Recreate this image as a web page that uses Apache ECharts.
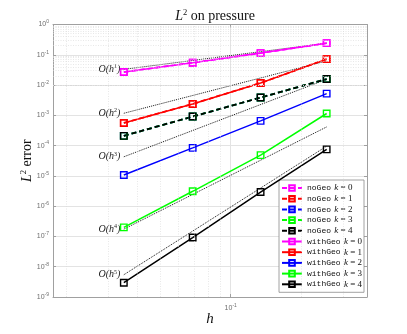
<!DOCTYPE html>
<html>
<head>
<meta charset="utf-8">
<script src="https://cdn.jsdelivr.net/npm/echarts@6/dist/echarts.min.js"></script>
<style>
  html, body { margin: 0; padding: 0; background: #fff; }
  #chart { width: 407px; height: 334px; }
</style>
</head>
<body>
<div id="chart"></div>
<script>
// mesh sizes
const h = [0.0351, 0.0689, 0.134, 0.256]
// errors
const noGeo0 = [0.0269, 0.0548, 0.1135, 0.242]
const noGeo1 = [5.6e-4, 2.38e-3, 0.0117, 0.072]
const noGeo2 = [2.1e-4, 9.1e-4, 3.86e-3, 0.0158]
const noGeo3 = [2.1e-4, 9.1e-4, 3.86e-3, 0.0158]
const noGeo4 = [2.1e-4, 9.1e-4, 3.86e-3, 0.0158]
const withGeo0 = [0.0269, 0.0548, 0.1135, 0.242]
const withGeo1 = [5.6e-4, 2.38e-3, 0.0117, 0.072]
const withGeo2 = [1.07e-5, 8.45e-5, 6.55e-4, 5.2e-3]
const withGeo3 = [2.0e-7, 3.1e-6, 4.86e-5, 1.15e-3]
const withGeo4 = [2.97e-9, 9.2e-8, 2.93e-6, 7.5e-5]
// reference slopes (end points)
const refH = [0.0351, 0.256]
const ref1 = [0.033, 0.242]
const ref2 = [1.17e-3, 0.0628]
const ref3 = [4.27e-5, 0.0155]
const ref4 = [1.74e-7, 4.15e-4]
const ref5 = [5.43e-9, 9.6e-5]
const refOrders = [1, 2, 3, 4, 5]

const colors = ['#ff00ff', '#ff0000', '#0000ff', '#00ff00', '#000000']
const noGeo = [noGeo0, noGeo1, noGeo2, noGeo3, noGeo4]
const withGeo = [withGeo0, withGeo1, withGeo2, withGeo3, withGeo4]
const refs = [ref1, ref2, ref3, ref4, ref5]

// minor grid positions (2..9 x 10^k)
const minorX = []
const minorY = []
for (let m = 2; m <= 9; m++) {
  if (m * 0.01 > 0.0176) minorX.push(m * 0.01)
  if (m * 0.1 < 0.38) minorX.push(m * 0.1)
  for (let e = -9; e < 0; e++) minorY.push(m * Math.pow(10, e))
}

const serif = '"Liberation Serif", "DejaVu Serif", serif'
const mono = '"Liberation Mono", "DejaVu Sans Mono", monospace'

function pow10Label (value) {
  const e = Math.log10(value)
  const r = Math.round(e)
  if (Math.abs(e - r) > 1e-6) return ''
  return '{b|10}{s|' + r + '}'
}
const tickRich = {
  b: { fontSize: 7, color: '#6e6e6e', fontFamily: 'Liberation Sans, sans-serif' },
  s: { fontSize: 5, color: '#6e6e6e', verticalAlign: 'top', padding: [0, 0, 5, 0], fontFamily: 'Liberation Sans, sans-serif' }
}

function pairs (xs, ys) {
  return xs.map((x, i) => [x, ys[i]])
}

const series = []
// minor grid lines
series.push({
  name: 'grid',
  type: 'line',
  data: [],
  silent: true,
  z: 1,
  markLine: {
    silent: true,
    symbol: 'none',
    label: { show: false },
    animation: false,
    lineStyle: { color: '#d9d9d9', type: [1, 1.5], width: 0.6 },
    data: minorX.map(v => ({ xAxis: v })).concat(minorY.map(v => ({ yAxis: v })))
  }
})
for (let k = 0; k < 5; k++) {
  series.push({
    name: 'noGeo k = ' + k,
    type: 'line',
    data: pairs(h, noGeo[k]),
    symbol: 'rect',
    symbolSize: 6.5,
    z: 3,
    lineStyle: { color: colors[k], width: 1.8, type: [5, 3] },
    itemStyle: { color: 'rgba(255,255,255,0)', borderColor: colors[k], borderWidth: 1.4 }
  })
}
for (let k = 0; k < 5; k++) {
  series.push({
    name: 'withGeo k = ' + k,
    type: 'line',
    data: pairs(h, withGeo[k]),
    symbol: 'rect',
    symbolSize: 6.5,
    z: 4,
    lineStyle: { color: colors[k], width: 1.5 },
    itemStyle: { color: 'rgba(255,255,255,0)', borderColor: colors[k], borderWidth: 1.4 }
  })
}
for (let i = 0; i < refs.length; i++) {
  series.push({
    name: 'O' + refOrders[i],
    type: 'line',
    data: pairs(refH, refs[i]),
    symbol: 'circle',
    symbolSize: 1,
    z: 2,
    itemStyle: { color: 'rgba(0,0,0,0)' },
    lineStyle: { color: '#111', width: 1, type: [1, 1] },
    label: {
      show: true,
      position: 'left',
      distance: 3,
      formatter: p => p.dataIndex === 0 ? '{t|O(h}{s|' + refOrders[i] + '}{t|)}' : '',
      rich: {
        t: { fontFamily: serif, fontStyle: 'italic', fontSize: 10, color: '#222' },
        s: { fontFamily: serif, fontSize: 6, color: '#222', verticalAlign: 'top', padding: [0, 0, 5, 0] }
      }
    }
  })
}

const legendNames = []
for (let k = 0; k < 5; k++) legendNames.push('noGeo k = ' + k)
for (let k = 0; k < 5; k++) legendNames.push('withGeo k = ' + k)

const axisGrey = '#a0a0a0'
const chart = echarts.init(document.getElementById('chart'), null, { renderer: 'canvas' })
chart.setOption({
  animation: false,
  title: {
    text: '{i|L}{s|2}{n| on pressure}',
    left: 210,
    textAlign: 'center',
    top: 3,
    textStyle: {
      fontWeight: 'normal',
      rich: {
        i: { fontFamily: serif, fontStyle: 'italic', fontWeight: 'normal', fontSize: 14, color: '#111' },
        s: { fontFamily: serif, fontWeight: 'normal', fontSize: 8.5, color: '#111', verticalAlign: 'top', padding: [0, 0, 8, 0] },
        n: { fontFamily: serif, fontWeight: 'normal', fontSize: 14, color: '#111' }
      }
    }
  },
  grid: { left: 53, right: 40, top: 24.5, bottom: 37 },
  legend: {
    data: legendNames,
    orient: 'vertical',
    left: 279,
    top: 180,
    backgroundColor: '#fff',
    borderColor: '#8c8c8c',
    borderWidth: 0.8,
    borderRadius: 0,
    padding: [2, 2, 2, 2],
    itemWidth: 20,
    itemHeight: 7,
    itemGap: -1.3,
    formatter: name => {
      const parts = name.split(' ')
      return '{m|' + parts[0] + '} {i|k}{n| = ' + parts[3] + '}'
    },
    textStyle: {
      rich: {
        m: { fontFamily: mono, fontSize: 8, color: '#111' },
        i: { fontFamily: serif, fontStyle: 'italic', fontSize: 9, color: '#111' },
        n: { fontFamily: serif, fontSize: 9, color: '#111' }
      }
    }
  },
  xAxis: [{
    type: 'log',
    min: 0.01754,
    max: 0.38,
    name: 'h',
    nameLocation: 'middle',
    nameGap: 15,
    nameMoveOverlap: false,
    nameTextStyle: { fontFamily: serif, fontStyle: 'italic', fontSize: 15, color: '#111' },
    axisLine: { lineStyle: { color: axisGrey, width: 1 } },
    axisTick: { inside: true, length: 3, lineStyle: { color: axisGrey } },
    axisLabel: { formatter: pow10Label, rich: tickRich, margin: 6, showMinLabel: false, showMaxLabel: false },
    splitLine: { show: true, lineStyle: { color: '#e3e3e3', width: 1 } }
  }, {
    type: 'log',
    min: 0.01754,
    max: 0.38,
    position: 'top',
    axisLine: { show: true, lineStyle: { color: axisGrey, width: 1 } },
    axisTick: { inside: true, length: 3, lineStyle: { color: axisGrey } },
    axisLabel: { show: false },
    splitLine: { show: false }
  }],
  yAxis: [{
    type: 'log',
    min: 1e-9,
    max: 1,
    splitNumber: 9,
    name: '{i|L}{s|2}{n| error}',
    nameLocation: 'middle',
    nameRotate: 90,
    nameGap: 17,
    nameMoveOverlap: false,
    nameTextStyle: {
      rich: {
        i: { fontFamily: serif, fontStyle: 'italic', fontSize: 14, color: '#111' },
        s: { fontFamily: serif, fontSize: 8.5, color: '#111', verticalAlign: 'top', padding: [0, 0, 8, 0] },
        n: { fontFamily: serif, fontSize: 14, color: '#111' }
      }
    },
    axisLine: { show: true, lineStyle: { color: axisGrey, width: 1 } },
    axisTick: { inside: true, length: 3, lineStyle: { color: axisGrey } },
    axisLabel: { formatter: pow10Label, rich: tickRich, margin: 4 },
    splitLine: { show: true, lineStyle: { color: '#e3e3e3', width: 1 } }
  }, {
    type: 'log',
    min: 1e-9,
    max: 1,
    splitNumber: 9,
    position: 'right',
    axisLine: { show: true, lineStyle: { color: axisGrey, width: 1 } },
    axisTick: { inside: true, length: 3, lineStyle: { color: axisGrey } },
    axisLabel: { show: false },
    splitLine: { show: false }
  }],
  series: series
})
</script>
</body>
</html>
